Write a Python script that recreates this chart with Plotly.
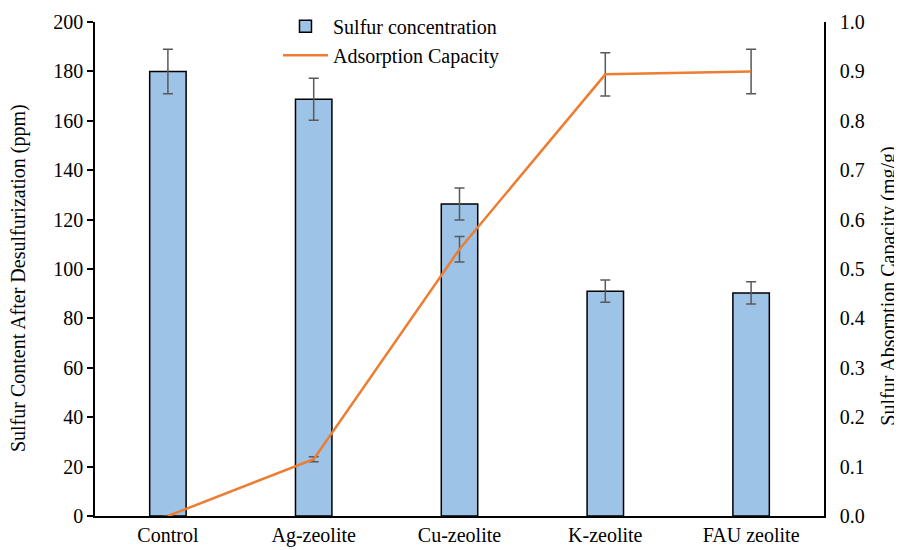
import plotly.graph_objects as go

categories = ["Control", "Ag-zeolite", "Cu-zeolite", "K-zeolite", "FAU zeolite"]
sulfur_ppm = [180.0, 168.7, 126.3, 91.0, 90.3]
sulfur_err = [9.0, 8.5, 6.5, 4.5, 4.5]
capacity = [0.0, 0.115, 0.54, 0.894, 0.900]
capacity_err = [0.0, 0.005, 0.026, 0.044, 0.045]

FONT = "Liberation Serif, Times New Roman, serif"
ERR_COLOR = "#595959"

fig = go.Figure()
fig.add_trace(go.Bar(
    x=categories, y=sulfur_ppm, name="Sulfur concentration",
    width=0.25,
    marker=dict(color="#9DC3E6", line=dict(color="black", width=1.5)),
    error_y=dict(type="data", array=sulfur_err, color=ERR_COLOR, thickness=1.5, width=5),
    yaxis="y",
))
fig.add_trace(go.Scatter(
    x=categories, y=capacity, name="Adsorption Capacity",
    mode="lines",
    line=dict(color="#ED7D31", width=2.5),
    error_y=dict(type="data", array=capacity_err, color=ERR_COLOR, thickness=1.5, width=5),
    yaxis="y2",
))

fig.update_layout(
    width=902, height=550,
    margin=dict(l=87, r=86, t=14, b=42, autoexpand=False),
    plot_bgcolor="white", paper_bgcolor="white",
    font=dict(family=FONT, size=20, color="black"),
    showlegend=True,
    legend=dict(x=0.251, y=1.031, xanchor="left", yanchor="top", itemwidth=45,
                bgcolor="rgba(0,0,0,0)", font=dict(size=20), tracegroupgap=0),
    xaxis=dict(range=[-0.5, 4.5], showline=True, linecolor="black", linewidth=1.5,
               ticks="", showgrid=False, tickfont=dict(size=20)),
    yaxis=dict(range=[0, 200], dtick=20, showline=True, linecolor="black", linewidth=1.5,
               ticks="outside", ticklen=6, tickcolor="black", tickwidth=1.5,
               showgrid=False, zeroline=False, tickfont=dict(size=20)),
    yaxis2=dict(range=[0, 1.0], dtick=0.1, tickformat=".1f", overlaying="y", side="right",
                showline=True, linecolor="black", linewidth=1.5,
                ticks="outside", ticklen=10, tickcolor="rgba(0,0,0,0)",
                showgrid=False, zeroline=False, tickfont=dict(size=20)),
    annotations=[
        dict(text="Sulfur Content After Desulfurization (ppm)", xref="paper", yref="paper",
             x=-0.104, y=0.482, xanchor="center", yanchor="middle", textangle=-90,
             showarrow=False, font=dict(size=20)),
        dict(text="Sulfur Absorption Capacity (mg/g)", xref="paper", yref="paper",
             x=1.089, y=0.466, xanchor="center", yanchor="middle", textangle=-90,
             showarrow=False, font=dict(size=20)),
    ],
)

fig.write_html("out.html")
